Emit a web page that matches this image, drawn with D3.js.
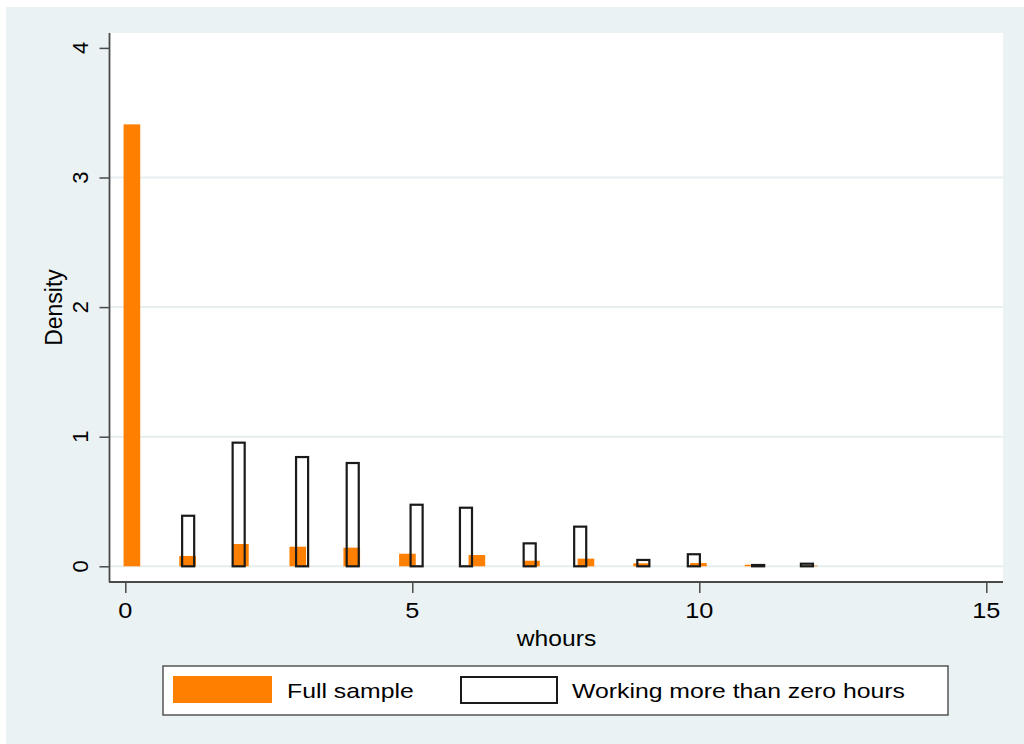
<!DOCTYPE html>
<html>
<head>
<meta charset="utf-8">
<script src="https://cdn.jsdelivr.net/npm/d3@7"></script>
<style>
  html, body { margin: 0; padding: 0; background: #ffffff; }
  svg { display: block; }
  text { font-family: "Liberation Sans", Arial, Helvetica, sans-serif; fill: #000; }
</style>
</head>
<body>
<script>
// Histogram of whours: full sample vs. those working more than zero hours
const fullStart   = [-0.03, 0.94, 1.86, 2.86, 3.80, 4.77, 5.98, 6.93, 7.88, 8.85, 9.84, 10.79, 11.77];
const fullDensity = [3.41, 0.08, 0.172, 0.151, 0.144, 0.097, 0.087, 0.043, 0.059, 0.023, 0.025, 0.012, 0.006];
const fullWidth   = 0.29;

const workStart   = [0.99, 1.87, 2.975, 3.857, 4.97, 5.83, 6.94, 7.82, 8.92, 9.80, 10.92, 11.77];
const workDensity = [0.39, 0.954, 0.843, 0.797, 0.475, 0.452, 0.177, 0.306, 0.049, 0.093, 0.01, 0.02];
const workWidth   = 0.21;

const xTicks = [0, 5, 10, 15];
const yTicks = [0, 1, 2, 3, 4];
const yGrid  = [0, 1, 2, 3];

const xTitle = "whours";
const yTitle = "Density";
const legendLabels = ["Full sample", "Working more than zero hours"];

const W = 1024, H = 744;
const plot = { left: 110, top: 33, right: 1003, bottom: 582 };

const svg = d3.select("body").append("svg").attr("width", W).attr("height", H);

// outer graph region
svg.append("rect").attr("x", 6).attr("y", 7).attr("width", W - 6).attr("height", H - 7)
  .attr("fill", "#eaf2f3");

// plot region
svg.append("rect").attr("x", plot.left).attr("y", plot.top)
  .attr("width", plot.right - plot.left).attr("height", plot.bottom - plot.top)
  .attr("fill", "#ffffff");

const x = d3.scaleLinear().domain([0, 15]).range([125.3, 986.3]);
const y = d3.scaleLinear().domain([0, 4]).range([566.3, 47.9]);

// horizontal grid lines
svg.append("g").selectAll("line").data(yGrid).join("line")
  .attr("x1", plot.left).attr("x2", plot.right)
  .attr("y1", d => y(d)).attr("y2", d => y(d))
  .attr("stroke", "#e6eef0").attr("stroke-width", 2);

// full sample bars (filled)
const fullData = fullStart.map((s, i) => ({ s, d: fullDensity[i] }));
svg.append("g").selectAll("rect").data(fullData).join("rect")
  .attr("x", d => x(d.s))
  .attr("width", d => x(d.s + fullWidth) - x(d.s))
  .attr("y", d => y(d.d))
  .attr("height", d => y(0) - y(d.d))
  .attr("fill", "#ff8000");

// working > 0 bars (outline only)
const workData = workStart.map((s, i) => ({ s, d: workDensity[i] }));
svg.append("g").selectAll("rect").data(workData).join("rect")
  .attr("x", d => x(d.s))
  .attr("width", d => x(d.s + workWidth) - x(d.s))
  .attr("y", d => y(d.d))
  .attr("height", d => y(0) - y(d.d))
  .attr("fill", "none")
  .attr("stroke", "#1a1a1a").attr("stroke-width", 2.2);

// axes
const axisColor = "#4a4a4a";
const xAxis = d3.axisBottom(x).tickValues(xTicks).tickSize(11).tickFormat("");
const gx = svg.append("g").attr("transform", `translate(0,${plot.bottom})`).call(xAxis);
gx.select(".domain").remove();
gx.selectAll(".tick line").attr("stroke", axisColor).attr("stroke-width", 1.5);
svg.append("line").attr("x1", plot.left - 1).attr("x2", plot.right)
  .attr("y1", plot.bottom).attr("y2", plot.bottom)
  .attr("stroke", axisColor).attr("stroke-width", 1.8);

const yAxis = d3.axisLeft(y).tickValues(yTicks).tickSize(10).tickFormat("");
const gy = svg.append("g").attr("transform", `translate(${plot.left - 0.5},0)`).call(yAxis);
gy.select(".domain").remove();
gy.selectAll(".tick line").attr("stroke", axisColor).attr("stroke-width", 1.5);
svg.append("line").attr("x1", plot.left - 0.5).attr("x2", plot.left - 0.5)
  .attr("y1", plot.top).attr("y2", plot.bottom)
  .attr("stroke", axisColor).attr("stroke-width", 1.8);

// horizontally stretched text helper
function label(g, px, py, str, size, sx, anchor) {
  return g.append("text")
    .attr("transform", `translate(${px},${py}) scale(${sx},1)`)
    .attr("text-anchor", anchor)
    .attr("font-size", size)
    .text(str);
}

// x tick labels
xTicks.forEach(t => label(svg, x(t), 617.5, String(t), 22, 1.15, "middle"));
// x title
label(svg, (plot.left + plot.right) / 2, 646, xTitle, 22, 1.12, "middle");

// y tick labels (rotated)
yTicks.forEach(t => {
  svg.append("text")
    .attr("transform", `translate(88.3,${y(t)}) rotate(-90)`)
    .attr("text-anchor", "middle")
    .attr("font-size", 22)
    .text(String(t));
});
// y title
svg.append("text")
  .attr("transform", `translate(62,${(plot.top + plot.bottom) / 2}) rotate(-90)`)
  .attr("text-anchor", "middle")
  .attr("font-size", 23)
  .text(yTitle);

// legend
const lg = svg.append("g");
lg.append("rect").attr("x", 163).attr("y", 666).attr("width", 785).attr("height", 49)
  .attr("fill", "#ffffff").attr("stroke", "#555555").attr("stroke-width", 1.5);
lg.append("rect").attr("x", 173).attr("y", 676).attr("width", 99).attr("height", 27)
  .attr("fill", "#ff8000");
label(lg, 287, 697.5, legendLabels[0], 20, 1.24, "start");
lg.append("rect").attr("x", 461).attr("y", 677).attr("width", 96).attr("height", 26)
  .attr("fill", "#ffffff").attr("stroke", "#1a1a1a").attr("stroke-width", 2);
label(lg, 572, 697.5, legendLabels[1], 20, 1.24, "start");
</script>
</body>
</html>
